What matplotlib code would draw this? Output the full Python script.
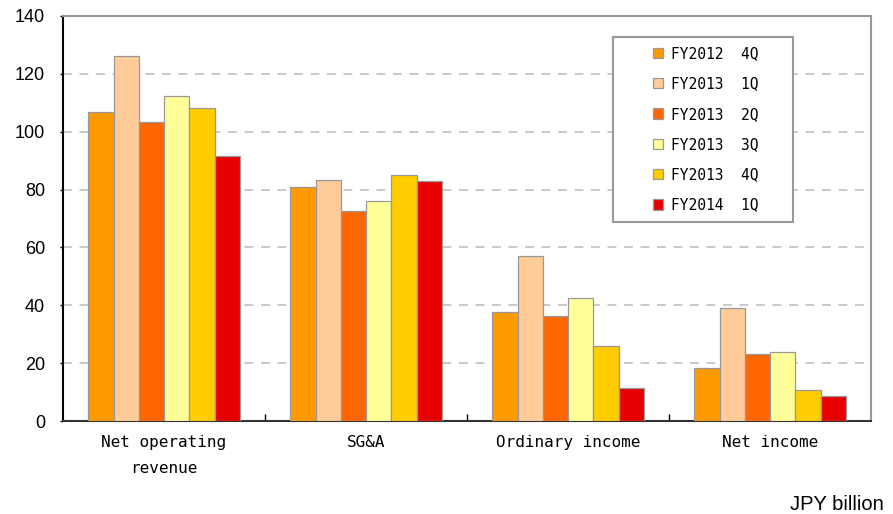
import numpy as np
import matplotlib.pyplot as plt
from matplotlib.patches import Rectangle

categories = ["Net operating\nrevenue", "SG&A", "Ordinary income", "Net income"]
series_names = ["FY2012  4Q", "FY2013  1Q", "FY2013  2Q", "FY2013  3Q", "FY2013  4Q", "FY2014  1Q"]
fy2012_4q = [106.8, 80.9, 37.8, 18.4]
fy2013_1q = [126.2, 83.3, 57.0, 39.2]
fy2013_2q = [103.4, 72.6, 36.4, 23.3]
fy2013_3q = [112.3, 76.0, 42.6, 24.0]
fy2013_4q = [108.3, 85.0, 25.9, 10.8]
fy2014_1q = [91.7, 83.0, 11.5, 8.8]
colors = ["#FF9900", "#FFCC99", "#FF6600", "#FFFF99", "#FFCC00", "#E60000"]

values = [fy2012_4q, fy2013_1q, fy2013_2q, fy2013_3q, fy2013_4q, fy2014_1q]

W, H = 893, 514
fig = plt.figure(figsize=(W / 100, H / 100), dpi=100)
ax = fig.add_axes([63 / W, 1 - 421 / H, 808 / W, 405 / H])

x = np.arange(len(categories))
n = len(values)
w = 0.75 / n
for i, (vals, name, c) in enumerate(zip(values, series_names, colors)):
    ax.bar(x - 0.375 + w * (i + 0.5), vals, width=w, color=c,
           edgecolor="#999999", linewidth=0.9, label=name, zorder=3)

ax.set_xlim(-0.5, len(categories) - 0.5)
ax.set_ylim(0, 140)
ax.set_yticks(np.arange(0, 141, 20))
ax.yaxis.grid(True, linestyle=(0, (5.8, 5)), color="#BBBBBB", linewidth=1.1, zorder=0)

ax.set_xticks(np.arange(0.5, len(categories) - 0.5, 1))
ax.set_xticklabels([])
ax.tick_params(axis="x", direction="in", length=5, width=1)
ax.tick_params(axis="y", direction="out", length=2.5, width=1, pad=10.5, labelsize=13)
for lbl in ax.get_yticklabels():
    lbl.set_family("Liberation Sans")

for xi, cat in zip(x, categories):
    ax.text(xi, -4.8, cat, ha="center", va="top", family="DejaVu Sans Mono",
            fontsize=11.5, linespacing=1.95)

ax.spines["left"].set_color("#000000")
ax.spines["left"].set_linewidth(1.5)
ax.spines["bottom"].set_color("#333333")
ax.spines["bottom"].set_linewidth(1.5)
ax.spines["top"].set_color("#999999")
ax.spines["top"].set_linewidth(1.5)
ax.spines["right"].set_color("#999999")
ax.spines["right"].set_linewidth(1.5)

# legend box drawn separately so it can be wider than the entries
box = Rectangle((613 / W, 1 - 222 / H), 180 / W, 185 / H,
                transform=fig.transFigure, facecolor="white",
                edgecolor="#999999", linewidth=1.5, zorder=4, clip_on=False)
ax.add_patch(box)
leg = ax.legend(loc="upper left", bbox_to_anchor=(653 / W, 1 - 46 / H),
                bbox_transform=fig.transFigure, frameon=False,
                prop={"family": "DejaVu Sans Mono", "size": 10.5},
                handlelength=0.7, handleheight=0.7, handletextpad=0.55,
                labelspacing=1.05, borderpad=0, borderaxespad=0)
leg.set_zorder(5)

fig.text(0.99, 0.008, "JPY billion", ha="right", va="baseline",
         family="Liberation Sans", fontsize=14.5)

fig.savefig("out.png", dpi=100)
